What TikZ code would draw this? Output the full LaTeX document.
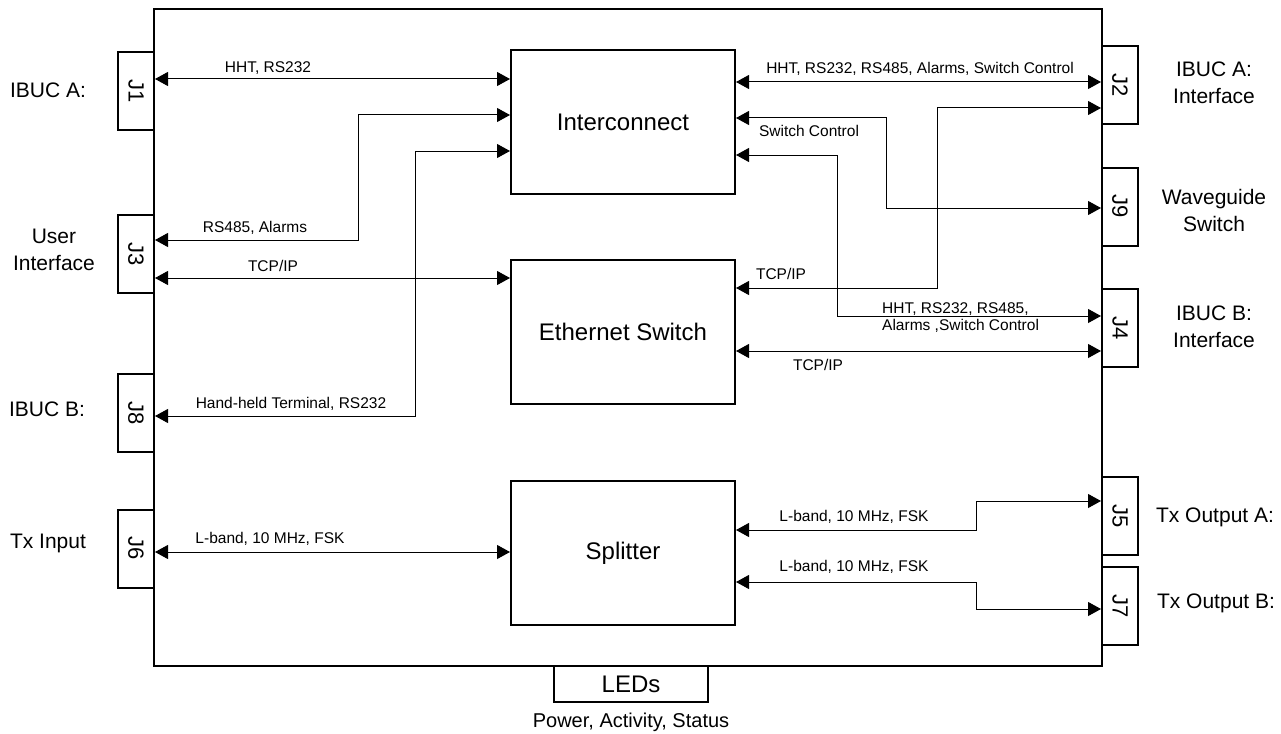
\documentclass[tikz,border=0pt]{standalone}
\usepackage{fontspec}
\setmainfont{Liberation Sans}
\usepackage{graphicx}
\usetikzlibrary{arrows.meta}
\begin{document}
\begin{tikzpicture}[x=1pt,y=-1pt,
  side/.style={font=\fontsize{21}{27}\selectfont, align=center, inner sep=0pt},
  small/.style={font=\fontsize{15.5}{17}\selectfont, inner sep=0pt},
  blk/.style={draw, line width=2pt, minimum width=224pt, minimum height=144pt, inner sep=0pt, font=\fontsize{24}{28}\selectfont},
  jbox/.style={draw, fill=white, line width=2pt, minimum width=36pt, minimum height=78pt, inner sep=0pt, font=\fontsize{22}{26}\selectfont},
  con/.style={line width=1pt, {Triangle[length=13pt,width=14pt]}-{Triangle[length=13pt,width=14pt]}}]
\useasboundingbox (0,0) rectangle (1281,733);
\node[draw, line width=2pt, minimum width=948pt, minimum height=657pt, inner sep=0pt] (main) at (628,337.5) {};
% left connectors
\node[jbox] (j1) at (136,91) {\rotatebox{-90}{J1}};
\node[jbox] (j3) at (136,254) {\rotatebox{-90}{J3}};
\node[jbox] (j8) at (136,413) {\rotatebox{-90}{J8}};
\node[jbox] (j6) at (136,548.5) {\rotatebox{-90}{J6}};
% right connectors
\node[jbox] (j2) at (1120,85) {\rotatebox{-90}{J2}};
\node[jbox] (j9) at (1120,206.5) {\rotatebox{-90}{J9}};
\node[jbox] (j4) at (1120,328) {\rotatebox{-90}{J4}};
\node[jbox] (j5) at (1120,516) {\rotatebox{-90}{J5}};
\node[jbox] (j7) at (1120,606) {\rotatebox{-90}{J7}};
% blocks
\node[blk] (ic) at (623,122) {Interconnect};
\node[blk] (es) at (623,332) {Ethernet Switch};
\node[blk] (sp) at (623,553) {Splitter};
\node[jbox, minimum width=154pt, minimum height=36pt, font=\fontsize{24}{28}\selectfont] (led) at (631,684) {LEDs};
\node[side, font=\fontsize{20}{24}\selectfont] (ledl) at (631,722) {Power, Activity, Status};
% side labels
\node[side] (s1) at (48,90) {IBUC A:};
\node[side] (s3) at (54,250) {User\\Interface};
\node[side] (s8) at (47,409) {IBUC B:};
\node[side] (s6) at (48,543) {Tx Input};
\node[side] (s2) at (1214,83) {IBUC A:\\Interface};
\node[side] (s9) at (1214,210) {Waveguide\\Switch};
\node[side] (s4) at (1214,327) {IBUC B:\\Interface};
\node[side] (s5) at (1215,517) {Tx Output A:};
\node[side] (s7) at (1216,603) {Tx Output B:};
% connections
\draw[con] (j1.east |- 0,79) -- (ic.west |- 0,79);
\draw[con] (j3.east |- 0,240) -- (358,240) -- (358,115) -- (ic.west |- 0,115);
\draw[con] (j8.east |- 0,416) -- (415,416) -- (415,151) -- (ic.west |- 0,151);
\draw[con] (j3.east |- 0,278) -- (es.west |- 0,278);
\draw[con] (j6.east |- 0,552) -- (sp.west |- 0,552);
\draw[con] (ic.east |- 0,82) -- (j2.west |- 0,82);
\draw[con] (ic.east |- 0,118) -- (886,118) -- (886,208) -- (j9.west |- 0,208);
\draw[con] (ic.east |- 0,155) -- (837,155) -- (837,316) -- (j4.west |- 0,316);
\draw[con] (es.east |- 0,288) -- (937,288) -- (937,108) -- (j2.west |- 0,108);
\draw[con] (es.east |- 0,351) -- (j4.west |- 0,351);
\draw[con] (sp.east |- 0,530) -- (976,530) -- (976,501) -- (j5.west |- 0,501);
\draw[con] (sp.east |- 0,582) -- (976,582) -- (976,609) -- (j7.west |- 0,609);
% connector labels
\node[small] (l1) at (268,68) {HHT, RS232};
\node[small] (l2) at (255,228) {RS485, Alarms};
\node[small] (l3) at (291,404) {Hand-held Terminal, RS232};
\node[small] (l4) at (273,266) {TCP/IP};
\node[small] (l5) at (270,539) {L-band, 10 MHz, FSK};
\node[small] (l6) at (920,69) {HHT, RS232, RS485, Alarms, Switch Control};
\node[small] (l7) at (809,131) {Switch Control};
\node[small, anchor=west, align=left] (l8) at (882,318) {HHT, RS232, RS485,\\Alarms ,Switch Control};
\node[small] (l9) at (781,274) {TCP/IP};
\node[small] (l10) at (818,365) {TCP/IP};
\node[small] (l11) at (854,517) {L-band, 10 MHz, FSK};
\node[small] (l12) at (854,567) {L-band, 10 MHz, FSK};
\end{tikzpicture}
\end{document}
